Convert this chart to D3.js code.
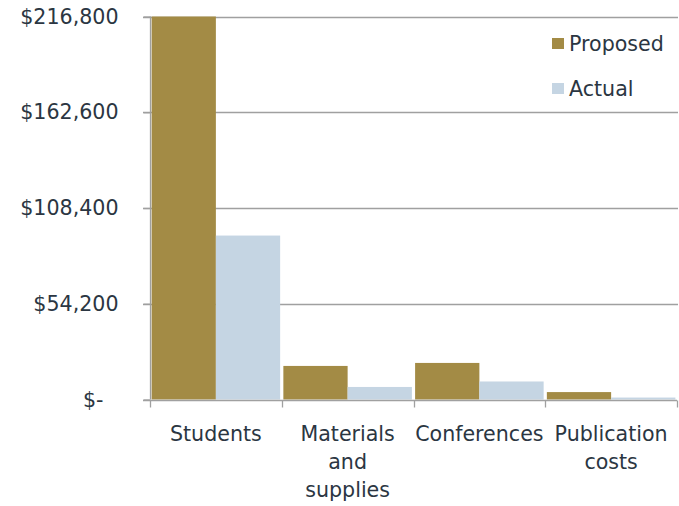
<!DOCTYPE html>
<html>
<head>
<meta charset="utf-8">
<script src="https://cdn.jsdelivr.net/npm/d3@7"></script>
<style>
  html, body { margin: 0; padding: 0; background: #fff; }
  svg { display: block; }
  text { font-family: "DejaVu Sans", Verdana, sans-serif; fill: #2b3642; }
</style>
</head>
<body>
<svg id="chart" width="679" height="506"></svg>
<script>
const categories = ["Students", "Materials and supplies", "Conferences", "Publication costs"];
const seriesNames = ["Proposed", "Actual"];
const proposed = [216800, 19000, 20700, 4200];
const actual = [92800, 7100, 10200, 1100];
const yTicks = [0, 54200, 108400, 162600, 216800];
const colors = ["#a38b45", "#c5d5e3"];

const FS = 20.6;
const svg = d3.select("#chart");
const W = 679, H = 506;
const margin = { left: 150, right: 2, top: 16.5, bottom: 106.5 };
const x0 = margin.left, x1 = W - margin.right;
const yTop = margin.top, yBot = H - margin.bottom;

const x = d3.scaleBand().domain(categories).range([x0, x1]).paddingInner(0).paddingOuter(0);
const xs = d3.scaleBand().domain(seriesNames).range([0, x.bandwidth()]).paddingOuter(0.025).paddingInner(0);
const y = d3.scaleLinear().domain([0, 216800]).range([yBot, yTop]);

const gridColor = "#a0a0a0";

// gridlines
svg.append("g").selectAll("line").data(yTicks.filter(d => d > 0)).join("line")
  .attr("x1", x0 - 7).attr("x2", x1 + 1)
  .attr("y1", d => Math.round(y(d)) + 0.5).attr("y2", d => Math.round(y(d)) + 0.5)
  .attr("stroke", gridColor).attr("stroke-width", 1.3);

// bars
const data = categories.map((c, i) => ({ cat: c, vals: [proposed[i], actual[i]] }));
const gcat = svg.append("g").selectAll("g").data(data).join("g")
  .attr("transform", d => `translate(${x(d.cat)},0)`);
gcat.selectAll("rect").data(d => d.vals.map((v, j) => ({ v, s: seriesNames[j], j }))).join("rect")
  .attr("x", d => xs(d.s))
  .attr("width", xs.bandwidth())
  .attr("y", d => y(d.v))
  .attr("height", d => y(0) - y(d.v))
  .attr("fill", d => colors[d.j]);

// y axis
const yAxis = d3.axisLeft(y).tickValues(yTicks).tickSize(7).tickPadding(25)
  .tickFormat(d => d === 0 ? "$-" : "$" + d3.format(",")(d));
const gy = svg.append("g").attr("transform", `translate(${x0 + 0.5},0)`).call(yAxis);
gy.select(".domain").attr("stroke", gridColor).attr("stroke-width", 1.3).attr("d", `M0,${yTop}V${yBot}`);
gy.selectAll(".tick line").attr("stroke", gridColor).attr("stroke-width", 1.3);
gy.selectAll(".tick text").attr("font-size", FS).style("font-family", "DejaVu Sans").attr("fill", "#2b3642")
  .attr("dx", d => d === 0 ? -15 : 0);

// x axis
const xAxis = d3.axisBottom(x).tickSize(0).tickFormat("");
const gx = svg.append("g").attr("transform", `translate(0,${Math.round(y(0)) + 0.5})`).call(xAxis);
gx.select(".domain").attr("stroke", gridColor).attr("stroke-width", 1.3).attr("d", `M${x0 - 7},0H${x1}`);
const bounds = categories.map(c => x(c)).concat([x1]);
gx.append("g").selectAll("line").data(bounds).join("line")
  .attr("x1", d => Math.round(d) + 0.5).attr("x2", d => Math.round(d) + 0.5)
  .attr("y1", 0).attr("y2", 7).attr("stroke", gridColor).attr("stroke-width", 1.3);

// category labels with wrapping
function wrapLines(text, maxW, fs) {
  const words = text.split(" ");
  const tmp = svg.append("text").attr("font-size", fs);
  const lines = []; let cur = "";
  words.forEach(w => {
    const test = cur ? cur + " " + w : w;
    tmp.text(test);
    if (tmp.node().getComputedTextLength() > maxW && cur) { lines.push(cur); cur = w; }
    else cur = test;
  });
  if (cur) lines.push(cur);
  tmp.remove();
  return lines;
}
const labG = svg.append("g");
categories.forEach(c => {
  const lines = wrapLines(c, 120, FS);
  const cx = x(c) + x.bandwidth() / 2;
  const t = labG.append("text").attr("font-size", FS).attr("text-anchor", "middle")
    .attr("x", cx).attr("y", 441);
  lines.forEach((l, i) => t.append("tspan").attr("x", cx).attr("dy", i === 0 ? 0 : 28).text(l));
});

// legend
const lg = svg.append("g").attr("transform", "translate(552,38)");
seriesNames.forEach((s, i) => {
  const g = lg.append("g").attr("transform", `translate(0,${i * 45})`);
  g.append("rect").attr("width", 12).attr("height", 11).attr("fill", colors[i]);
  g.append("text").attr("x", 17).attr("y", 12.5).attr("font-size", FS).text(s);
});
</script>
</body>
</html>
